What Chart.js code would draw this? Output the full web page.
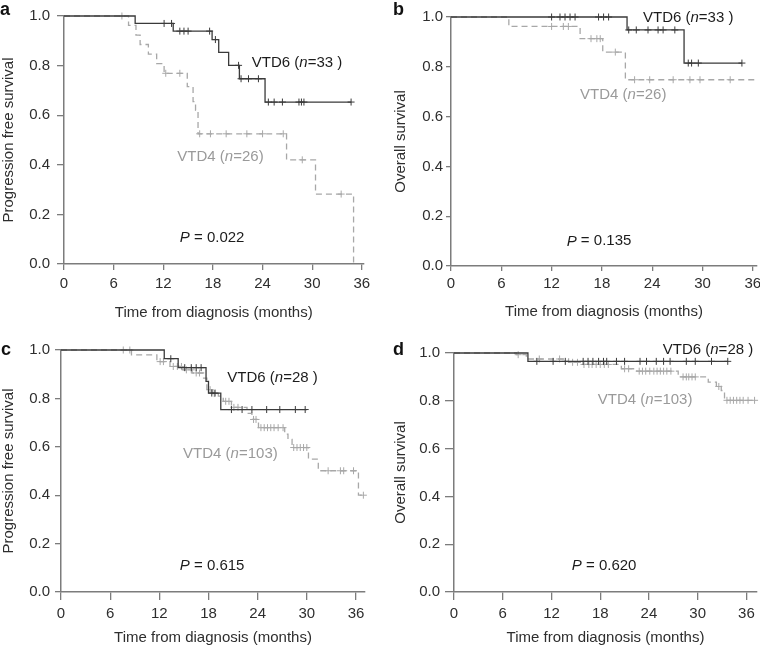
<!DOCTYPE html>
<html>
<head>
<meta charset="utf-8">
<script src="https://cdn.jsdelivr.net/npm/chart.js@4.4.0/dist/chart.umd.min.js"></script>
<style>
  html, body { margin: 0; padding: 0; background: #fff; overflow: hidden; }
  body { width: 760px; height: 647px; position: relative; }
  canvas { position: absolute; }
</style>
</head>
<body>
<canvas id="panelA" style="left:0;top:0" width="380" height="322"></canvas>
<canvas id="panelB" style="left:380px;top:0" width="390" height="322"></canvas>
<canvas id="panelC" style="left:0;top:321px" width="380" height="326"></canvas>
<canvas id="panelD" style="left:380px;top:321px" width="390" height="326"></canvas>
<script>
// tick labels
const xTicks = [0, 6, 12, 18, 24, 30, 36];
const yTicks = [0, 0.2, 0.4, 0.6, 0.8, 1.0];

// a: progression free survival, VTD6 n=33 vs VTD4 n=26
const aVtd6Time = [0, 8.6, 13.2, 17.9, 18.7, 19.9, 21.2, 24.3, 34.7];
const aVtd6Surv = [1, 0.970, 0.939, 0.905, 0.853, 0.801, 0.747, 0.653, 0.653];
const aVtd6Cens = [12.1, 13.0, 14.0, 14.5, 15.0, 17.6, 18.3, 21.1, 21.4, 22.3, 23.5, 24.7, 25.4, 26.4, 28.4, 28.7, 29.0, 34.7];
const aVtd4Time = [0, 7.8, 8.7, 9.2, 10.2, 11.2, 12.1, 14.9, 15.6, 15.9, 16.2, 26.9, 30.4, 35.0];
const aVtd4Surv = [1, 0.962, 0.923, 0.885, 0.846, 0.808, 0.769, 0.715, 0.655, 0.62, 0.525, 0.42, 0.282, 0];
const aVtd4Cens = [7.0, 12.3, 14.0, 16.4, 17.7, 19.6, 22.1, 24.0, 26.5, 28.8, 33.5];

// b: overall survival, VTD6 n=33 vs VTD4 n=26
const bVtd6Time = [0, 21.0, 27.8, 34.7];
const bVtd6Surv = [1, 0.948, 0.815, 0.815];
const bVtd6Cens = [12.0, 13.0, 13.6, 14.2, 14.8, 17.6, 18.2, 18.8, 21.2, 22.1, 23.5, 24.7, 25.3, 26.7, 28.3, 28.7, 29.5, 34.7];
const bVtd4Time = [0, 6.9, 15.4, 18.1, 20.8, 36.3];
const bVtd4Surv = [1, 0.962, 0.913, 0.859, 0.748, 0.748];
const bVtd4Cens = [12.0, 13.4, 14.0, 16.7, 17.4, 17.8, 19.6, 21.9, 23.7, 26.5, 28.5, 29.7, 33.3];

// c: progression free survival, VTD6 n=28 vs VTD4 n=103
const cVtd6Time = [0, 12.6, 14.3, 17.7, 18.0, 19.5, 30.0];
const cVtd6Surv = [1, 0.964, 0.927, 0.87, 0.822, 0.754, 0.754];
const cVtd6Cens = [13.4, 15.1, 15.9, 16.5, 17.1, 18.4, 18.8, 20.8, 22.1, 23.3, 25.1, 26.7, 28.6, 29.8];
const cVtd4Time = [0, 8.6, 11.7, 13.3, 14.8, 16.0, 17.4, 17.8, 18.5, 19.2, 19.8, 20.8, 22.7, 23.3, 24.1, 27.3, 27.7, 28.2, 30.2, 31.4, 36.3, 37.1];
const cVtd4Surv = [1, 0.98, 0.952, 0.932, 0.918, 0.905, 0.884, 0.836, 0.82, 0.809, 0.788, 0.763, 0.738, 0.713, 0.679, 0.652, 0.631, 0.597, 0.549, 0.501, 0.40, 0.40];
const cVtd4Cens = [7.6, 8.4, 12.1, 12.5, 13.7, 14.2, 14.7, 15.3, 15.9, 16.5, 16.9, 18.2, 18.7, 20.1, 20.5, 21.1, 21.6, 23.5, 23.8, 24.4, 24.8, 25.2, 25.6, 26.0, 26.5, 27.1, 28.4, 28.8, 29.2, 29.6, 30.0, 32.6, 34.1, 34.5, 35.7, 36.9];

// d: overall survival, VTD6 n=28 vs VTD4 n=103
const dVtd6Time = [0, 9.1, 33.7];
const dVtd6Surv = [1, 0.965, 0.965];
const dVtd6Cens = [10.2, 12.2, 13.7, 15.9, 16.5, 17.1, 17.8, 18.4, 18.8, 20.0, 21.0, 22.9, 23.7, 24.9, 25.8, 26.6, 28.6, 29.7, 31.7, 33.7];
const dVtd4Time = [0, 7.7, 8.9, 14.1, 15.8, 20.6, 22.5, 27.6, 31.3, 32.3, 32.9, 33.3, 37.2];
const dVtd4Surv = [1, 0.993, 0.975, 0.961, 0.952, 0.934, 0.924, 0.900, 0.878, 0.86, 0.843, 0.802, 0.802];
const dVtd4Cens = [7.9, 10.5, 13.0, 14.6, 15.2, 16.0, 16.6, 17.0, 17.5, 18.0, 18.5, 19.0, 21.0, 21.5, 22.8, 23.2, 23.6, 24.1, 24.6, 25.0, 25.4, 25.8, 26.2, 26.7, 28.2, 28.6, 28.9, 29.3, 29.7, 32.6, 33.6, 34.0, 34.4, 34.8, 35.2, 35.6, 36.2, 37.0];

const FONT = '"Liberation Sans", Arial, Helvetica, sans-serif';
const DARK = '#3a3a3a';
const LIGHT = '#a8a8a8';
const AXIS = '#7c7c7c';
const TEXT = '#2e2e2e';

// survival value of a step curve at time t (for censor marks)
function survAt(times, surv, t) {
    let s = surv[0];
    for (let i = 0; i < times.length; i++) {
        if (times[i] <= t) s = surv[i];
    }
    return s;
}

function kmDatasets(times, surv, cens, color, dashed) {
    return [
        {
            type: 'line',
            data: times.map((t, i) => ({ x: t, y: surv[i] })),
            stepped: true,
            borderColor: color,
            borderWidth: 1.3,
            borderDash: dashed ? [6, 4] : [],
            pointRadius: 0,
            fill: false,
            clip: false
        },
        {
            type: 'scatter',
            data: cens.map(t => ({ x: t, y: survAt(times, surv, t) })),
            pointStyle: 'cross',
            pointRadius: 3.5,
            borderColor: color,
            backgroundColor: color,
            borderWidth: 1,
            clip: false
        }
    ];
}

// panel letter, group labels and P value
const kmText = {
    id: 'kmText',
    afterDraw(chart, args, opts) {
        const { ctx } = chart;
        const x = chart.scales.x, y = chart.scales.y;
        ctx.save();
        ctx.textBaseline = 'middle';
        ctx.textAlign = 'left';
        opts.labels.forEach(lab => {
            let px = x.getPixelForValue(lab.x);
            const py = y.getPixelForValue(lab.y);
            ctx.fillStyle = lab.color;
            lab.parts.forEach(([txt, italic]) => {
                ctx.font = (italic ? 'italic ' : '') + '15px ' + FONT;
                ctx.fillText(txt, px, py);
                px += ctx.measureText(txt).width;
            });
        });
        ctx.textBaseline = 'alphabetic';
        ctx.font = 'bold 18px ' + FONT;
        ctx.fillStyle = '#111';
        ctx.fillText(opts.letter, opts.letterX, opts.letterY);
        ctx.restore();
    }
};

function groupLabels(nA, nB, pos) {
    return [
        { x: pos.v6[0], y: pos.v6[1], color: '#1c1c1c', parts: [['VTD6 (', false], ['n', true], ['=' + nA + ' )', false]] },
        { x: pos.v4[0], y: pos.v4[1], color: '#9a9a9a', parts: [['VTD4 (', false], ['n', true], ['=' + nB + ')', false]] },
        { x: pos.p[0], y: pos.p[1], color: '#1c1c1c', parts: [['P', true], [' = ' + pos.pText, false]] }
    ];
}

function makePanel(id, spec) {
    const ctx = document.getElementById(id).getContext('2d');
    return new Chart(ctx, {
        data: {
            datasets: [
                ...kmDatasets(spec.v6[0], spec.v6[1], spec.v6[2], DARK, false),
                ...kmDatasets(spec.v4[0], spec.v4[1], spec.v4[2], LIGHT, true)
            ]
        },
        options: {
            responsive: false,
            animation: false,
            devicePixelRatio: 1,
            layout: { padding: spec.pad },
            plugins: {
                legend: { display: false },
                tooltip: { enabled: false },
                kmText: {
                    letter: spec.letter, letterX: spec.letterPos[0], letterY: spec.letterPos[1],
                    labels: groupLabels(spec.nA, spec.nB, spec.text)
                }
            },
            scales: {
                x: {
                    type: 'linear',
                    min: 0,
                    max: spec.xMax,
                    afterBuildTicks: s => { s.ticks = xTicks.map(v => ({ value: v })); },
                    afterFit: s => { s.height = spec.xH; },
                    grid: { drawOnChartArea: false, drawTicks: true, tickLength: spec.xTick[0], color: AXIS, lineWidth: 1.3 },
                    border: { display: true, color: AXIS, width: 1.5 },
                    ticks: { padding: spec.xTick[1], color: TEXT, font: { family: FONT, size: 15 }, maxRotation: 0, autoSkip: false },
                    title: { display: true, text: 'Time from diagnosis (months)', color: TEXT, font: { family: FONT, size: 15 }, padding: 0 }
                },
                y: {
                    type: 'linear',
                    min: 0,
                    max: 1,
                    afterBuildTicks: s => { s.ticks = yTicks.map(v => ({ value: v })); },
                    afterFit: s => { s.width = spec.yW; },
                    grid: { drawOnChartArea: false, drawTicks: true, tickLength: spec.yTick[0], color: AXIS, lineWidth: 1.3 },
                    border: { display: true, color: AXIS, width: 1.5 },
                    ticks: { padding: spec.yTick[1], color: TEXT, font: { family: FONT, size: 15 }, callback: v => v.toFixed(1) },
                    title: { display: true, text: spec.yTitle, color: TEXT, font: { family: FONT, size: 15 }, padding: 0 }
                }
            }
        },
        plugins: [kmText]
    });
}

makePanel('panelA', {
    letter: 'a', letterPos: [0, 15],
    v6: [aVtd6Time, aVtd6Surv, aVtd6Cens], v4: [aVtd4Time, aVtd4Surv, aVtd4Cens],
    nA: 33, nB: 26,
    text: { v6: [22.7, 0.81], v4: [13.7, 0.434], p: [14.0, 0.104], pText: '0.022' },
    yTitle: 'Progression free survival',
    xMax: 36.2, pad: { left: 0, top: 15, right: 16.5, bottom: 0 },
    yW: 64, xH: 58, yTick: [7, 7], xTick: [6, 5]
});

makePanel('panelB', {
    letter: 'b', letterPos: [13, 15],
    v6: [bVtd6Time, bVtd6Surv, bVtd6Cens], v4: [bVtd4Time, bVtd4Surv, bVtd4Cens],
    nA: 33, nB: 26,
    text: { v6: [22.9, 0.997], v4: [15.4, 0.686], p: [13.8, 0.099], pText: '0.135' },
    yTitle: 'Overall survival',
    xMax: 36.5, pad: { left: 11.5, top: 17, right: 13, bottom: 1 },
    yW: 59.5, xH: 55, yTick: [5, 3], xTick: [5, 4]
});

makePanel('panelC', {
    letter: 'c', letterPos: [1, 34],
    v6: [cVtd6Time, cVtd6Surv, cVtd6Cens], v4: [cVtd4Time, cVtd4Surv, cVtd4Cens],
    nA: 28, nB: 103,
    text: { v6: [20.3, 0.885], v4: [14.9, 0.57], p: [14.5, 0.107], pText: '0.615' },
    yTitle: 'Progression free survival',
    xMax: 37.1, pad: { left: 0, top: 29, right: 15, bottom: 0 },
    yW: 61, xH: 55, yTick: [6, 5], xTick: [8, 5]
});

makePanel('panelD', {
    letter: 'd', letterPos: [13, 34],
    v6: [dVtd6Time, dVtd6Surv, dVtd6Cens], v4: [dVtd4Time, dVtd4Surv, dVtd4Cens],
    nA: 28, nB: 103,
    text: { v6: [25.7, 1.012], v4: [17.7, 0.805], p: [14.5, 0.108], pText: '0.620' },
    yTitle: 'Overall survival',
    xMax: 37.3, pad: { left: 12, top: 32, right: 13, bottom: 0 },
    yW: 62, xH: 55, yTick: [9, 5], xTick: [8, 5]
});
</script>
</body>
</html>
